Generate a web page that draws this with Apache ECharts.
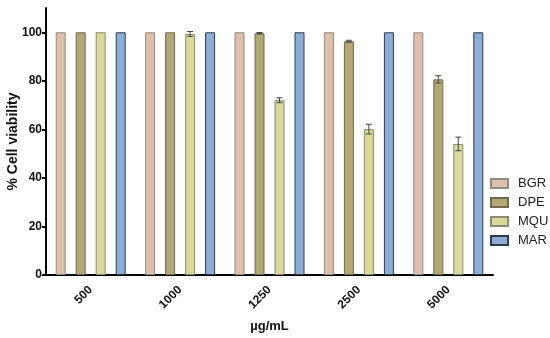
<!DOCTYPE html>
<html><head><meta charset="utf-8">
<script src="https://cdn.jsdelivr.net/npm/echarts@6/dist/echarts.min.js"></script>
<style>html,body{margin:0;padding:0;background:#fff}#c{width:550px;height:338px}</style>
</head><body><div id="c"></div>
<script>
const categories = ['500', '1000', '1250', '2500', '5000'];
const seriesNames = ['BGR', 'DPE', 'MQU', 'MAR'];
const BGR = [100, 100, 100, 100, 100];
const DPE = [100, 100, 99.6, 96.3, 80.6];
const MQU = [100, 99.3, 72.0, 60.1, 54.0];
const MAR = [100, 100, 100, 100, 100];
const BGR_err = [0, 0, 0, 0, 0];
const DPE_err = [0, 0, 0.3, 0.4, 1.5];
const MQU_err = [0, 1.0, 1.0, 2.0, 2.8];
const MAR_err = [0, 0, 0, 0, 0];
const yTicks = [0, 20, 40, 60, 80, 100];

const values = [BGR, DPE, MQU, MAR];
const errs = [BGR_err, DPE_err, MQU_err, MAR_err];
const colors = ['#DEBFAA', '#B3A773', '#D9D99A', '#8DADD9'];
const borders = ['#8f8a86', '#6f6a52', '#8a8a72', '#2f3a4a'];
const offsets = [-30, -10, 10, 30];
const font = 'Liberation Sans, Arial, sans-serif';

const chart = echarts.init(document.getElementById('c'), null, {renderer: 'canvas'});
const series = [];
values.forEach((v, i) => {
  series.push({
    name: seriesNames[i], type: 'bar', data: v, barWidth: 10, barGap: '100%',
    itemStyle: {color: colors[i], borderColor: borders[i], borderWidth: 1},
    z: 2
  });
});
values.forEach((v, i) => {
  series.push({
    type: 'custom', silent: true, z: 5,
    data: v.map((val, k) => [k, val, errs[i][k]]).filter(d => d[2] > 0),
    renderItem: function (params, api) {
      const k = api.value(0), val = api.value(1), e = api.value(2);
      const top = api.coord([k, val + e]);
      const bot = api.coord([k, val - e]);
      const x = top[0] + offsets[i];
      const lw = {stroke: '#444', lineWidth: 1};
      return {type: 'group', children: [
        {type: 'line', shape: {x1: x, y1: top[1], x2: x, y2: bot[1]}, style: lw},
        {type: 'line', shape: {x1: x - 3, y1: top[1], x2: x + 3, y2: top[1]}, style: lw},
        {type: 'line', shape: {x1: x - 3, y1: bot[1], x2: x + 3, y2: bot[1]}, style: lw}
      ]};
    }
  });
});

chart.setOption({
  animation: false,
  backgroundColor: '#fff',
  grid: {left: 46, right: 57, top: 8, bottom: 63, containLabel: false, outerBoundsMode: 'none'},
  legend: {
    data: seriesNames, orient: 'vertical', left: 485, top: 172,
    itemWidth: 17, itemHeight: 9, itemGap: 6,
    textStyle: {fontFamily: font, fontSize: 13, color: '#222', padding: [0, 0, 0, 5]},
    icon: 'rect'
  },
  xAxis: {
    type: 'category', data: categories,
    name: 'µg/mL', nameLocation: 'middle', nameGap: 45,
    nameTextStyle: {fontFamily: font, fontSize: 13, fontWeight: 'bold', color: '#111'},
    axisLine: {lineStyle: {color: '#000', width: 2}},
    axisTick: {alignWithLabel: true, length: 5, lineStyle: {color: '#000', width: 2}},
    axisLabel: {rotate: 45, margin: 13, fontFamily: font, fontSize: 12, fontWeight: 'bold', color: '#111'},
    splitLine: {show: false}
  },
  yAxis: {
    type: 'value', min: 0, max: 110,
    name: '% Cell viability', nameLocation: 'middle', nameGap: 26, nameMoveOverlap: false,
    nameTextStyle: {fontFamily: font, fontSize: 14, fontWeight: 'bold', color: '#111'},
    axisLine: {show: true, lineStyle: {color: '#000', width: 2}},
    axisTick: {show: true, length: 4, lineStyle: {color: '#000', width: 2}, customValues: yTicks},
    axisLabel: {margin: 4, fontFamily: font, fontSize: 12, fontWeight: 'bold', color: '#111', customValues: yTicks},
    splitLine: {show: false}
  },
  series: series
});
</script></body></html>
